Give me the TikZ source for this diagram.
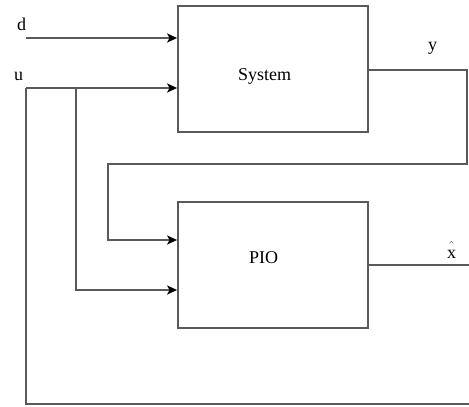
\documentclass[tikz,border=0pt]{standalone}
\usepackage{fontspec}
\setmainfont{Liberation Serif}
\usetikzlibrary{arrows.meta}
\begin{document}
\begin{tikzpicture}[x=1pt,y=-1pt,
  line/.style={draw=black!65, line width=1.8pt},
  arr/.style={line, -{Stealth[length=10pt,width=9pt,inset=2.5pt,color=black]}},
  blk/.style={draw=black!65, line width=1.8pt, minimum width=190pt, minimum height=126pt, inner sep=0pt},
  lbl/.style={font=\fontsize{18}{21}\selectfont, inner sep=0pt, anchor=base west}]
\useasboundingbox (0,0) rectangle (469,407);
\node[blk] (sys) at (273,69) {};
\node[blk] (pio) at (273,265) {};
\node[lbl] (systxt) at (238,80) {System};
\node[lbl] (piotxt) at (249,263) {PIO};
\node[lbl] (dtxt) at (17,30) {d};
\node[lbl] (utxt) at (14,80) {u};
\node[lbl] (ytxt) at (428,50) {y};
\node[lbl] (xtxt) at (447,258) {$\hat{\vphantom{\mbox{X}}\mbox{x}}$};
\coordinate (d0) at (26,38);
\coordinate (u0) at (26,88);
\coordinate (b1) at (76,88);
\coordinate (b1d) at (76,290);
\coordinate (ys) at (368,70);
\coordinate (yr) at (467,70);
\coordinate (yrd) at (467,164);
\coordinate (yl) at (108,164);
\coordinate (yld) at (108,240);
\coordinate (xs) at (368,265);
\coordinate (xe) at (469,265);
\coordinate (ob) at (26,404);
\coordinate (obr) at (469,404);
\draw[arr] (d0) -- (sys.west |- d0);
\draw[arr] (u0) -- (sys.west |- u0);
\draw[arr] (b1) -- (b1d) -- (pio.west |- b1d);
\draw[line] (u0) -- (ob) -- (obr);
\draw[arr] (ys) -- (yr) -- (yrd) -- (yl) -- (yld) -- (pio.west |- yld);
\draw[line] (xs) -- (xe);
\end{tikzpicture}
\end{document}
